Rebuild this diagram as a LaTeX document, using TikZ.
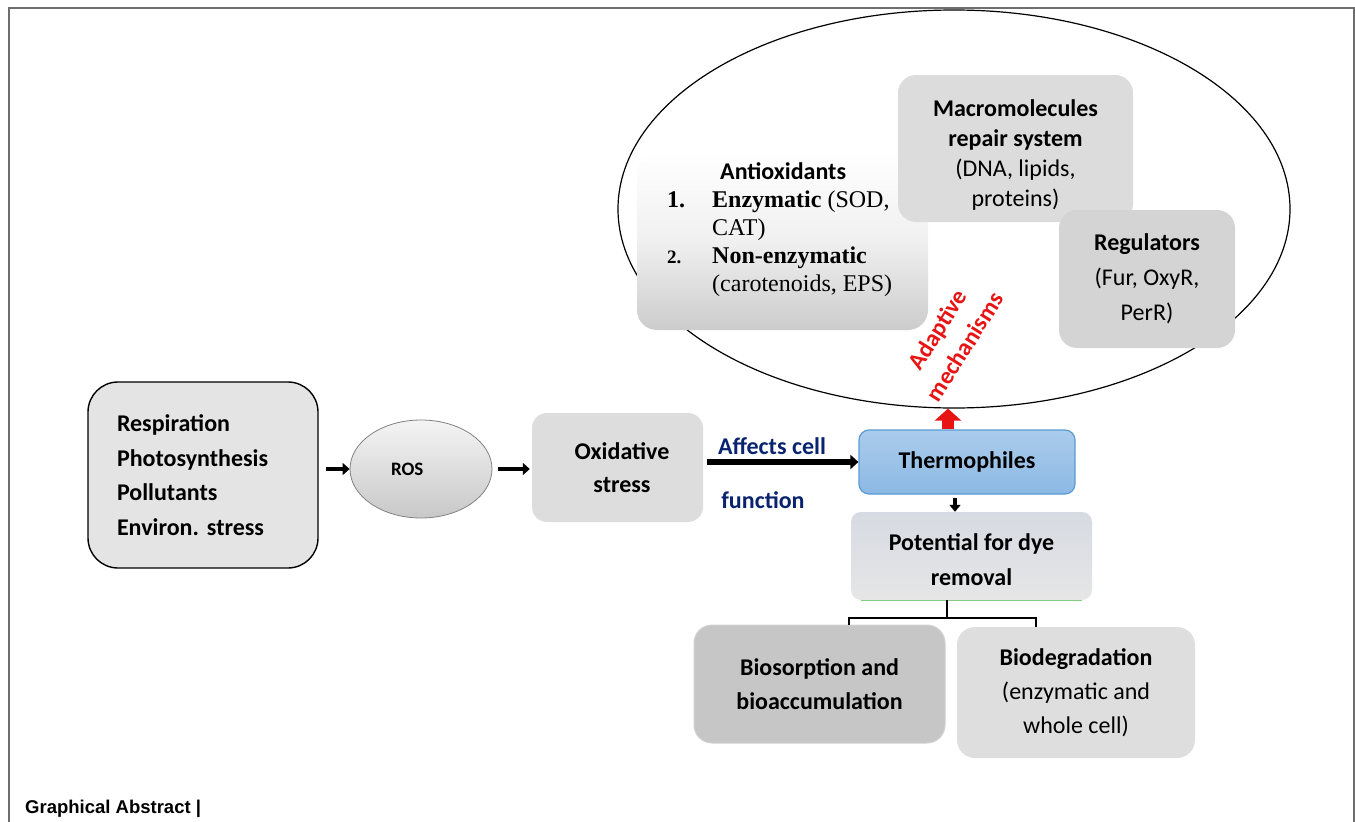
\documentclass[tikz,border=0pt]{standalone}
\usepackage{fontspec}
\setmainfont{Liberation Serif}
\setsansfont{Carlito}
\newfontfamily\helv{Liberation Sans}
\usetikzlibrary{shapes.geometric,arrows.meta}
\definecolor{framegray}{RGB}{110,110,110}
\definecolor{navy}{RGB}{10,35,110}
\definecolor{respfill}{RGB}{228,228,228}
\definecolor{rostop}{RGB}{244,244,244}
\definecolor{rosbot}{RGB}{200,200,200}
\definecolor{rosline}{RGB}{130,130,130}
\definecolor{oxfill}{RGB}{221,221,221}
\definecolor{thermotop}{RGB}{170,204,236}
\definecolor{thermobot}{RGB}{140,185,228}
\definecolor{thermoline}{RGB}{91,155,213}
\definecolor{pottop}{RGB}{214,218,226}
\definecolor{potbot}{RGB}{230,230,230}
\definecolor{potgreen}{RGB}{130,205,130}
\definecolor{biosfill}{RGB}{198,198,198}
\definecolor{biosline}{RGB}{210,210,210}
\definecolor{biodegfill}{RGB}{222,222,222}
\definecolor{macrofill}{RGB}{220,220,220}
\definecolor{regfill}{RGB}{212,212,212}
\definecolor{antibot}{RGB}{204,204,204}
\definecolor{adred}{RGB}{232,20,20}
\begin{document}
\begin{tikzpicture}[x=1pt,y=-1pt,
  gbox/.style={rectangle, rounded corners=14pt, inner sep=0pt, align=center,
    font=\sffamily\fontsize{24}{34}\selectfont},
  bbox/.style={gbox, font=\sffamily\bfseries\fontsize{24}{34}\selectfont},
  smallarrow/.style={line width=4.5pt, -{Triangle[width=12pt,length=7pt]}},
  bluelabel/.style={text=navy, font=\sffamily\bfseries\fontsize{24}{30}\selectfont, inner sep=0pt}
]
\useasboundingbox (0,0) rectangle (1355,822);
% frame
\draw[framegray, line width=1.5pt] (9,822) -- (9,8) -- (1354,8) -- (1354,822);

% big ellipse
\node[ellipse, draw=black, line width=1.2pt, minimum width=672pt, minimum height=398pt, inner sep=0pt] (ell) at (954,209) {};

% antioxidants
\node[gbox, rounded corners=20pt, top color=white, bottom color=antibot, middle color=white!94!black,
  minimum width=291pt, minimum height=177pt] (antiox) at (782.5,241.5) {};
\node[anchor=north west, inner sep=0pt, font=\fontsize{24}{28}\selectfont] (antioxtxt) at (667,160) {%
\begin{tabular}{@{}p{45pt}@{}l@{}}
\multicolumn{2}{@{}l@{}}{\hspace{53pt}\sffamily\bfseries Antioxidants}\\
\textbf{1.} & \textbf{Enzymatic} (SOD,\\
 & CAT)\\
{\fontsize{19}{28}\selectfont\textbf{2.}} & \textbf{Non-enzymatic}\\
 & (carotenoids, EPS)
\end{tabular}};

% macromolecules
\node[gbox, rounded corners=18pt, fill=macrofill, minimum width=235pt, minimum height=147pt,
  font=\sffamily\fontsize{24}{30}\selectfont] (macro) at (1015.5,148.5)
  {\rule{0pt}{29pt}\textbf{Macromolecules}\\\textbf{repair system}\\(DNA, lipids,\\proteins)};

% regulators
\node[gbox, rounded corners=18pt, fill=regfill, minimum width=176pt, minimum height=138pt,
  font=\sffamily\fontsize{24}{35}\selectfont] (reg) at (1147,279)
  {\textbf{Regulators}\\(Fur, OxyR,\\PerR)};

% adaptive mechanisms
\node[rotate=58, text=adred, align=center, inner sep=0pt,
  font=\sffamily\bfseries\fontsize{24}{32}\selectfont] (adapt) at (951,338) {Adaptive\\mechanisms};

% left box
\node[bbox, draw=black, line width=1.4pt, rounded corners=30pt, fill=respfill,
  minimum width=230pt, minimum height=186pt, text width=172pt, align=left,
  font=\sffamily\bfseries\fontsize{24}{34.7}\selectfont] (resp) at (203,475)
  {Respiration\\Photosynthesis\\Pollutants\\Environ.\ stress};

% ROS
\node[ellipse, draw=rosline, line width=0.8pt, top color=rostop, bottom color=rosbot,
  minimum width=142pt, minimum height=98pt, inner sep=0pt,
  font=\sffamily\bfseries\fontsize{19}{20}\selectfont] (ros) at (421,469) {\makebox[60pt][l]{ROS}};

% oxidative stress
\node[bbox, fill=oxfill, rounded corners=15pt, minimum width=171pt, minimum height=109pt,
  font=\sffamily\bfseries\fontsize{24}{33}\selectfont] (oxid) at (617.5,467.5) {\hspace{9pt}Oxidative\\\hspace{9pt}stress};

% thermophiles
\node[bbox, draw=thermoline, line width=1.2pt, top color=thermotop, bottom color=thermobot,
  rounded corners=10pt, minimum width=216pt, minimum height=64pt] (thermo) at (967,462) {Thermophiles};

% potential
\node[bbox, top color=pottop, bottom color=potbot, rounded corners=10pt,
  minimum width=241pt, minimum height=88pt, font=\sffamily\bfseries\fontsize{24}{35}\selectfont] (pot) at (971.5,556)
  {\rule{0pt}{25pt}Potential for dye\\removal};
\draw[potgreen, line width=1pt] ([xshift=10pt]pot.south west) -- ([xshift=-10pt]pot.south east);

% biosorption
\node[bbox, fill=biosfill, draw=biosline, line width=1pt, rounded corners=18pt,
  minimum width=251pt, minimum height=118pt] (bios) at (819.5,684)
  {Biosorption and\\bioaccumulation};

% biodegradation
\node[gbox, fill=biodegfill, rounded corners=18pt, minimum width=238pt, minimum height=131pt] (biodeg) at (1076,692.5)
  {\textbf{Biodegradation}\\(enzymatic and\\whole cell)};

% connectors
\draw[smallarrow] ([xshift=7pt]resp.east |- ros.west) -- (ros.west);
\draw[smallarrow, shorten <=6pt] (ros.east) -- ([xshift=-2pt]oxid.west |- ros.east);
\draw[line width=5.5pt, -{Triangle[width=14pt,length=8pt]}] ([xshift=4pt]oxid.east |- thermo.west) -- (thermo.west);
\node[bluelabel] (aff) at (772,446) {Affects cell};
\node[bluelabel] (func) at (763,500) {function};

\draw[line width=4pt, -{Triangle[width=11pt,length=7pt]}, shorten <=3pt] ([xshift=-12pt]thermo.south) -- ([xshift=-12pt]thermo.south |- pot.north);

\coordinate (ra) at (948,0);
\draw[adred, line width=12pt, -{Triangle[width=26pt,length=12pt]}] (thermo.north -| ra) -- (ell.south -| ra);

\coordinate (bj) at (947,618);
\coordinate (bl) at (849,618);
\coordinate (br) at (1036,618);
\draw[line width=2.4pt] (pot.south -| bj) -- (bj);
\draw[line width=2.4pt] (bl |- bios.north) -- (bl) -- (br) -- (br |- biodeg.north);

% caption
\node[anchor=west, inner sep=0pt, font=\helv\bfseries\fontsize{18.5}{22}\selectfont] (ga) at (25,809) {Graphical Abstract |};
\end{tikzpicture}
\end{document}
